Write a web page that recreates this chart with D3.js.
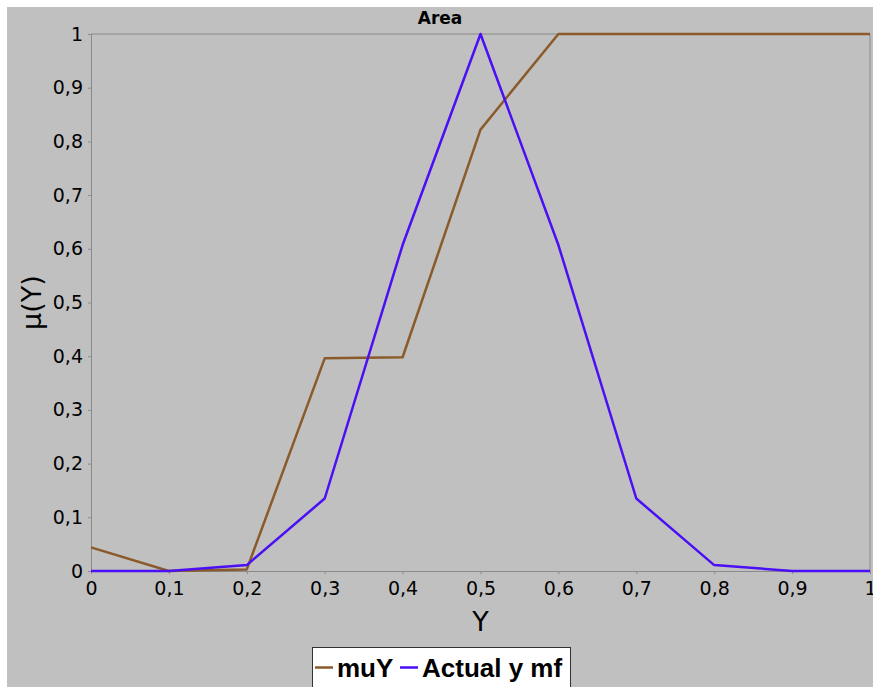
<!DOCTYPE html>
<html>
<head>
<meta charset="utf-8">
<script src="https://cdn.jsdelivr.net/npm/d3@7"></script>
<style>
  html, body { margin: 0; padding: 0; background: #ffffff; }
  svg { display: block; }
</style>
</head>
<body>
<div id="chart"></div>
<script>
// Chart data
const xValues = [0, 0.1, 0.2, 0.3, 0.4, 0.5, 0.6, 0.7, 0.8, 0.9, 1];
const muY = [0.044, 0, 0.003, 0.396, 0.398, 0.822, 1, 1, 1, 1, 1];
const actualYmf = [0, 0, 0.011, 0.135, 0.607, 1, 0.607, 0.135, 0.011, 0, 0];
const xTicks = [0, 0.1, 0.2, 0.3, 0.4, 0.5, 0.6, 0.7, 0.8, 0.9, 1];
const yTicks = [0, 0.1, 0.2, 0.3, 0.4, 0.5, 0.6, 0.7, 0.8, 0.9, 1];
const seriesNames = ["muY", "Actual y mf"];
const seriesColors = ["#8b5a2b", "#4a0ff5"];

const width = 873;
const height = 687;
const margin = { top: 34, right: 3, bottom: 116, left: 91 };

// Comma decimal labels
const fmt = (d) => (d === 0 || d === 1) ? String(d) : String(d).replace(".", ",");

const svg = d3
  .select("#chart")
  .append("svg")
  .attr("width", width)
  .attr("height", height);

// Gray panel
svg
  .append("rect")
  .attr("x", 7)
  .attr("y", 7)
  .attr("width", width - 7)
  .attr("height", height - 7)
  .attr("fill", "#c0c0c0");

// Scales
const xScale = d3
  .scaleLinear()
  .domain([0, 1])
  .range([margin.left, width - margin.right]);

const yScale = d3
  .scaleLinear()
  .domain([0, 1])
  .range([height - margin.bottom, margin.top]);

// Plot frame (top and right)
svg
  .append("path")
  .attr("d", `M${xScale(0)},${yScale(1)}H${xScale(1)}V${yScale(0)}`)
  .attr("fill", "none")
  .attr("stroke", "#8a8a8a")
  .attr("stroke-width", 1);

// Axes
const xAxis = d3.axisBottom(xScale).tickValues(xTicks).tickFormat(fmt).tickSize(3).tickPadding(8);
const yAxis = d3.axisLeft(yScale).tickValues(yTicks).tickFormat(fmt).tickSize(3).tickPadding(5);

const gx = svg
  .append("g")
  .attr("transform", `translate(0, ${yScale(0)})`)
  .call(xAxis);

const gy = svg
  .append("g")
  .attr("transform", `translate(${xScale(0)}, 0)`)
  .call(yAxis);

[gx, gy].forEach((g) => {
  g.select(".domain").attr("stroke", "#8a8a8a");
  g.selectAll(".tick line").attr("stroke", "#8a8a8a");
  g.selectAll(".tick text")
    .attr("fill", "#000")
    .style("font-family", "DejaVu Sans")
    .style("font-size", "19px");
});

// Lines
const line = d3
  .line()
  .x((d, i) => xScale(xValues[i]))
  .y((d) => yScale(d));

[muY, actualYmf].forEach((values, i) => {
  svg
    .append("path")
    .datum(values)
    .attr("fill", "none")
    .attr("stroke", seriesColors[i])
    .attr("stroke-width", 2.5)
    .attr("stroke-linejoin", "round")
    .attr("d", line);
});

// Title
svg
  .append("text")
  .attr("x", 440)
  .attr("y", 24)
  .attr("text-anchor", "middle")
  .style("font-family", "DejaVu Sans")
  .style("font-weight", "bold")
  .style("font-size", "17px")
  .text("Area");

// Axis labels
svg
  .append("text")
  .attr("x", (xScale(0) + xScale(1)) / 2)
  .attr("y", 631)
  .attr("text-anchor", "middle")
  .style("font-family", "DejaVu Sans")
  .style("font-size", "27px")
  .text("Y");

svg
  .append("text")
  .attr("transform", "rotate(-90)")
  .attr("x", -(yScale(0) + yScale(1)) / 2)
  .attr("y", 41)
  .attr("text-anchor", "middle")
  .style("font-family", "DejaVu Sans")
  .style("font-size", "27px")
  .text("μ(Y)");

// Legend
const legend = svg.append("g");

legend
  .append("rect")
  .attr("x", 312.5)
  .attr("y", 647.5)
  .attr("width", 258)
  .attr("height", 50)
  .attr("fill", "#ffffff")
  .attr("stroke", "#333333")
  .attr("stroke-width", 1);

const legendX = [315, 400];
seriesNames.forEach((name, i) => {
  legend
    .append("line")
    .attr("x1", legendX[i])
    .attr("x2", legendX[i] + 18)
    .attr("y1", 667.5)
    .attr("y2", 667.5)
    .attr("stroke", seriesColors[i])
    .attr("stroke-width", 2.5);

  legend
    .append("text")
    .attr("x", legendX[i] + 22)
    .attr("y", 677)
    .style("font-family", "Liberation Sans")
    .style("font-weight", "bold")
    .style("font-size", "26px")
    .text(name);
});
</script>
</body>
</html>
